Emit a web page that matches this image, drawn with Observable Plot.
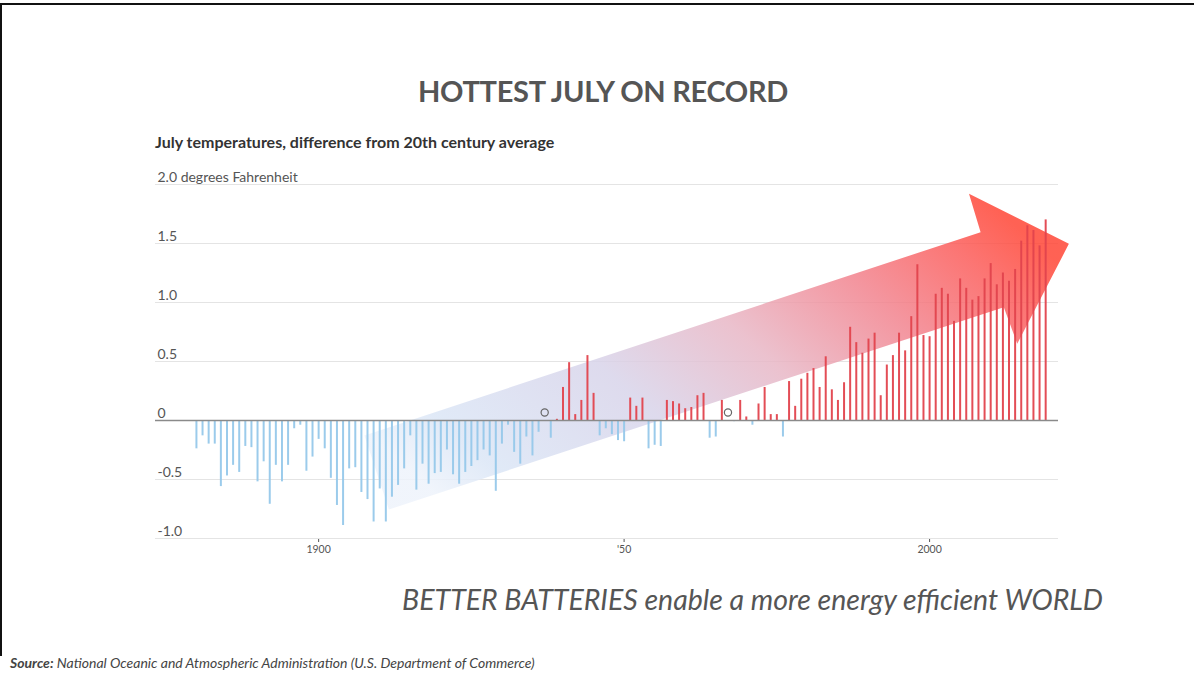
<!DOCTYPE html>
<html>
<head>
<meta charset="utf-8">
<script src="https://cdn.jsdelivr.net/npm/d3@7"></script>
<script src="https://cdn.jsdelivr.net/npm/@observablehq/plot@0.6"></script>
<style>
  html, body { margin: 0; padding: 0; background: #fff; }
  #page { position: relative; width: 1194px; height: 675px; overflow: hidden; background: #fff; font-family: Lato, "Open Sans", sans-serif; }
  #topline { position: absolute; left: 0; top: 3px; width: 1194px; height: 2px; background: #111; }
  #leftline { position: absolute; left: 0; top: 3px; width: 2px; height: 653px; background: #111; }
  #title { position: absolute; left: 418px; top: 74px; font-size: 29px; font-weight: 700; color: #555; white-space: nowrap; line-height: 34px; letter-spacing: -0.3px; }
  #subtitle { position: absolute; left: 155px; top: 132px; font-size: 16px; font-weight: 700; color: #333; white-space: nowrap; line-height: 20px; }
  #chart { position: absolute; left: 0; top: 160px; }
  #caption { position: absolute; right: 91px; top: 582px; font-size: 28.5px; font-style: italic; color: #555; white-space: nowrap; line-height: 34px; }
  #source { position: absolute; left: 10px; top: 655px; font-size: 14px; font-style: italic; color: #444; white-space: nowrap; line-height: 16px; }
</style>
</head>
<body>
<div id="page">
  <div id="topline"></div>
  <div id="leftline"></div>
  <div id="title">HOTTEST JULY ON RECORD</div>
  <div id="subtitle">July temperatures, difference from 20th century average</div>
  <div id="chart"></div>
  <div id="caption">BETTER BATTERIES enable a more energy efficient WORLD</div>
  <div id="source"><b>Source:</b> National Oceanic and Atmospheric Administration (U.S. Department of Commerce)</div>
</div>
<script>
// ---- data (July temperature anomaly, °F vs 20th-century average) ----
const years = d3.range(1880, 2020);
const anomalies = [
  // 1880s
  -0.24, -0.13, -0.20, -0.20, -0.56, -0.47, -0.38, -0.44, -0.22, -0.23,
  // 1890s
  -0.52, -0.35, -0.71, -0.38, -0.52, -0.38, -0.07, -0.04, -0.43, -0.31,
  // 1900s
  -0.16, -0.24, -0.49, -0.72, -0.89, -0.41, -0.40, -0.61, -0.67, -0.86,
  // 1910s
  -0.58, -0.86, -0.65, -0.55, -0.41, -0.13, -0.59, -0.37, -0.54, -0.45,
  // 1920s
  -0.44, -0.25, -0.46, -0.54, -0.44, -0.39, -0.34, -0.25, -0.30, -0.60,
  // 1930s
  -0.20, -0.04, -0.27, -0.37, -0.14, -0.30, -0.10, 0.00, -0.15, 0.01,
  // 1940s
  0.28, 0.49, 0.05, 0.17, 0.55, 0.23, -0.13, -0.07, -0.12, -0.17,
  // 1950s
  -0.18, 0.19, 0.12, 0.19, -0.24, -0.21, -0.22, 0.17, 0.16, 0.14,
  // 1960s
  0.10, 0.11, 0.21, 0.23, -0.15, -0.14, 0.17, 0.00, -0.01, 0.17,
  // 1970s
  0.03, -0.04, 0.14, 0.28, 0.05, 0.05, -0.14, 0.33, 0.12, 0.35,
  // 1980s
  0.40, 0.44, 0.28, 0.54, 0.26, 0.17, 0.32, 0.79, 0.66, 0.57,
  // 1990s
  0.69, 0.74, 0.21, 0.47, 0.55, 0.74, 0.59, 0.88, 1.32, 0.72,
  // 2000s
  0.71, 1.07, 1.12, 1.07, 0.84, 1.20, 1.12, 1.02, 1.05, 1.20,
  // 2010s
  1.33, 1.15, 1.25, 1.18, 1.28, 1.52, 1.65, 1.61, 1.48, 1.70
];
const yTicks = [-1.0, -0.5, 0, 0.5, 1.0, 1.5, 2.0];
const yTickLabels = ["-1.0", "-0.5", "0", "0.5", "1.0", "1.5", "2.0 degrees Fahrenheit"];
const xTicks = [1900, 1950, 2000];
const xTickLabels = ["1900", "'50", "2000"];

// annotation arrow outline (year, °F)
const arrowYears  = [1911.5, 1907.5, 2008.35, 2006.45, 2022.8, 2014.35, 2012.15, 1911.5];
const arrowValues = [-0.754, -0.127, 1.596, 1.921, 1.497, 0.650, 0.960, -0.754];

const data = years.map((year, i) => ({year, value: anomalies[i]}));
const arrow = arrowYears.map((x, i) => ({x, y: arrowValues[i]}));

const RED = "#e2434d";
const BLUE = "#96c8ea";

const plot = Plot.plot({
  width: 1194,
  height: 400,
  marginTop: 24,
  marginBottom: 22,
  marginLeft: 155,
  marginRight: 136,
  style: { fontFamily: "Lato, 'Open Sans', sans-serif", fontSize: "10.5px", color: "#555", background: "transparent" },
  x: { domain: [1873.3, 2021.1], ticks: xTicks, tickFormat: d => xTickLabels[xTicks.indexOf(d)], tickSize: 4, tickPadding: 3, label: null },
  y: { domain: [-1, 2], axis: null },
  marks: [
    Plot.ruleY(yTicks.filter(d => d !== 0), { stroke: "#e4e4e4", strokeWidth: 1 }),
    Plot.text(yTicks, { y: d => d, text: (d, i) => yTickLabels[i], frameAnchor: "left", textAnchor: "start", dx: 2, dy: -7, fontSize: 14, fill: "#555" }),
    Plot.line(arrow, { x: "x", y: "y", fill: "url(#arrowGrad)", stroke: "none", fillOpacity: 0.85, curve: "linear" }),
    Plot.ruleX(data.filter(d => d.value > 0), { x: "year", y1: 0, y2: "value", stroke: RED, strokeWidth: 2, strokeOpacity: 0.95 }),
    Plot.ruleX(data.filter(d => d.value < 0), { x: "year", y1: 0, y2: "value", stroke: BLUE, strokeWidth: 2, strokeOpacity: 0.95 }),
    Plot.ruleY([0], { stroke: "#8a8a8a", strokeWidth: 1.5 }),
    Plot.dot(data.filter(d => d.value === 0), { x: "year", y: d => d.value, r: 3.6, dy: -8, stroke: "#666", fill: "none", strokeWidth: 1.2 })
  ]
});

// gradient definition for the arrow
const svg = d3.select(plot);
const defs = svg.insert("defs", ":first-child");
const grad = defs.append("linearGradient").attr("id", "arrowGrad")
  .attr("x1", "0").attr("y1", "0.75").attr("x2", "1").attr("y2", "0.25");
[
  [0.00, "#eef3fb"],
  [0.10, "#dbe6f6"],
  [0.35, "#d8d4ea"],
  [0.55, "#e8b7c6"],
  [0.75, "#f2838e"],
  [0.90, "#fb5e5c"],
  [1.00, "#ff4636"]
].forEach(([o, c]) => grad.append("stop").attr("offset", o).attr("stop-color", c));

document.getElementById("chart").appendChild(plot);
</script>
</body>
</html>
